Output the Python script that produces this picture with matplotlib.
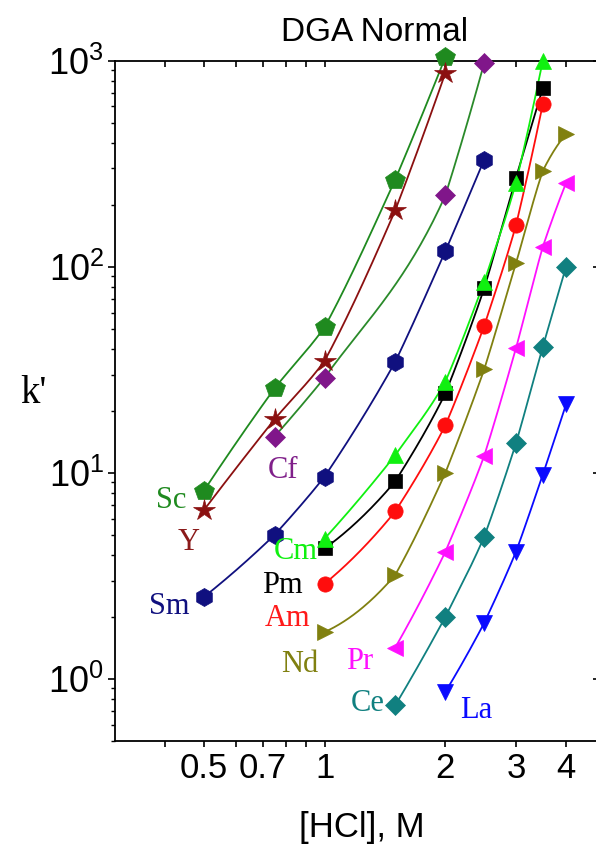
import numpy as np
import matplotlib
matplotlib.use("Agg")
import matplotlib.pyplot as plt
from matplotlib.ticker import FixedLocator, FixedFormatter, NullFormatter, LogLocator

plt.rcParams['mathtext.fontset'] = 'custom'
plt.rcParams['mathtext.rm'] = 'Liberation Sans'
plt.rcParams['mathtext.it'] = 'Liberation Sans:italic'
plt.rcParams['mathtext.bf'] = 'Liberation Sans:bold'

SANS = 'Liberation Sans'
SERIF = 'Liberation Serif'

# Retention factor k' versus HCl concentration (M) on DGA Normal resin
hcl_Sc = [0.5, 0.75, 1, 1.5, 2]
k_Sc = [8.2, 25.7, 51, 265, 1040]
hcl_Y = [0.5, 0.75, 1, 1.5, 2]
k_Y = [6.6, 18.2, 35, 188, 872]
hcl_Cf = [0.75, 1, 2, 2.5]
k_Cf = [15, 29, 222, 975]
hcl_Sm = [0.5, 0.75, 1, 1.5, 2, 2.5]
k_Sm = [2.5, 5.0, 9.6, 34.6, 119, 331]
hcl_Cm = [1, 1.5, 2, 2.5, 3, 3.5]
k_Cm = [4.8, 12.2, 27.7, 84.6, 255, 1000]
hcl_Pm = [1, 1.5, 2, 2.5, 3, 3.5]
k_Pm = [4.3, 9.1, 24.3, 78.6, 270, 735]
hcl_Am = [1, 1.5, 2, 2.5, 3, 3.5]
k_Am = [2.9, 6.5, 17, 51.7, 159, 615]
hcl_Nd = [1, 1.5, 2, 2.5, 3, 3.5, 4]
k_Nd = [1.69, 3.2, 10, 31.8, 104, 292, 440]
hcl_Pr = [1.5, 2, 2.5, 3, 3.5, 4]
k_Pr = [1.42, 4.14, 12.1, 40.2, 125, 255]
hcl_Ce = [1.5, 2, 2.5, 3, 3.5, 4]
k_Ce = [0.745, 2.0, 4.9, 13.9, 40.9, 100]
hcl_La = [2, 2.5, 3, 3.5, 4]
k_La = [0.865, 1.87, 4.14, 9.8, 21.5]

# series: name, x, y, marker, marker size, marker colour, line colour
series = [
    ("Sc", hcl_Sc, k_Sc, 'p', 15, '#1f8a1f', '#1f8a1f'),
    ("Y", hcl_Y, k_Y, '*', 16, '#8b1010', '#8b1010'),
    ("Cf", hcl_Cf, k_Cf, 'D', 10, '#80168a', '#2a8a2a'),
    ("Sm", hcl_Sm, k_Sm, 'h', 13, '#10107f', '#10107f'),
    ("Pm", hcl_Pm, k_Pm, 's', 9.5, '#000000', '#000000'),
    ("Cm", hcl_Cm, k_Cm, '^', 12, '#10f010', '#10f010'),
    ("Am", hcl_Am, k_Am, 'o', 11, '#ff0d0d', '#ff0d0d'),
    ("Nd", hcl_Nd, k_Nd, '>', 12, '#808010', '#808010'),
    ("Pr", hcl_Pr, k_Pr, '<', 12, '#ff10ff', '#ff10ff'),
    ("Ce", hcl_Ce, k_Ce, 'D', 10, '#108080', '#108080'),
    ("La", hcl_La, k_La, 'v', 12, '#0a0aff', '#0a0aff'),
]

# element label anchors (data coordinates) and colours
label_pos = {
    "Sc": (0.414, 7.37, '#1f8a1f'),
    "Y": (0.457, 4.61, '#8b1a1a'),
    "Cf": (0.786, 10.3, '#80208a'),
    "Cm": (0.845, 4.14, '#10f010'),
    "Pm": (0.786, 2.83, '#000000'),
    "Am": (0.809, 1.97, '#ff1a1a'),
    "Sm": (0.410, 2.24, '#10107f'),
    "Nd": (0.865, 1.18, '#808010'),
    "Pr": (1.22, 1.22, '#ff10ff'),
    "Ce": (1.28, 0.762, '#108080'),
    "La": (2.39, 0.705, '#0a0aff'),
}


def smooth_curve(x, y, n=60, blend=0.5):
    """Gently curved Hermite segments through the points in log-log space.

    Each segment's end tangents are pulled towards its own chord, so the
    curve bends softly and stays close to the straight connection.
    """
    lx = np.log10(np.asarray(x, float))
    ly = np.log10(np.asarray(y, float))
    h = np.diff(lx)
    d = np.diff(ly) / h
    m = len(lx)
    s = np.zeros(m)
    for i in range(1, m - 1):
        s[i] = (d[i - 1] * h[i] + d[i] * h[i - 1]) / (h[i - 1] + h[i])
    if m > 2:
        s[0] = ((2 * h[0] + h[1]) * d[0] - h[0] * d[1]) / (h[0] + h[1])
        s[-1] = ((2 * h[-1] + h[-2]) * d[-1] - h[-1] * d[-2]) / (h[-1] + h[-2])
    else:
        s[:] = d[0]
    s = np.maximum(s, 0.0)
    xs, ys = [], []
    for i in range(m - 1):
        a = blend * s[i] + (1 - blend) * d[i]
        b = blend * s[i + 1] + (1 - blend) * d[i]
        t = np.linspace(0, 1, n)
        h00 = 2 * t ** 3 - 3 * t ** 2 + 1
        h10 = t ** 3 - 2 * t ** 2 + t
        h01 = -2 * t ** 3 + 3 * t ** 2
        h11 = t ** 3 - t ** 2
        yy = h00 * ly[i] + h10 * h[i] * a + h01 * ly[i + 1] + h11 * h[i] * b
        xs.append(lx[i] + t * h[i])
        ys.append(yy)
    return 10 ** np.concatenate(xs), 10 ** np.concatenate(ys)


fig = plt.figure(figsize=(5.96, 8.52), dpi=100)
ax = fig.add_axes([0.19295, 0.13028, 0.8131, 0.79849])
ax.set_xscale('log')
ax.set_yscale('log')
ax.set_xlim(0.3, 4.85)
ax.set_ylim(0.5, 1000)

for name, x, y, mk, ms, mc, lc in series:
    cx, cy = smooth_curve(x, y)
    ax.plot(cx, cy, '-', color=lc, lw=1.3, zorder=2, clip_on=False)
    ax.plot(x, y, linestyle='none', marker=mk, ms=ms, color=mc,
            markeredgecolor=mc, markeredgewidth=0.5, zorder=3, clip_on=False)

for name, (tx, ty, col) in label_pos.items():
    ax.text(tx, ty, name, color=col, fontsize=22, family=SERIF,
            ha='center', va='center', zorder=4)

# axes styling
for side in ['left', 'bottom', 'top', 'right']:
    ax.spines[side].set_linewidth(1.3)

xmajor = [0.5, 0.7, 1, 2, 3, 4]
ax.xaxis.set_major_locator(FixedLocator(xmajor))
ax.xaxis.set_major_formatter(FixedFormatter(['0.5', '0.7', '1', '2', '3', '4']))
ax.xaxis.set_minor_locator(FixedLocator([0.4, 0.6, 0.8, 0.9]))
ax.xaxis.set_minor_formatter(NullFormatter())

ax.yaxis.set_major_locator(FixedLocator([1, 10, 100, 1000]))
ax.yaxis.set_major_formatter(FixedFormatter(['$10^0$', '$10^1$', '$10^2$', '$10^3$']))
ax.yaxis.set_minor_locator(LogLocator(base=10, subs=np.arange(2, 10) * 1.0, numticks=20))
ax.yaxis.set_minor_formatter(NullFormatter())

ax.tick_params(axis='x', which='both', direction='out', length=4, width=1.2,
               labelsize=25, pad=4, top=True)
ax.tick_params(axis='y', which='major', direction='out', length=5, width=1.2,
               labelsize=26, pad=3, right=True)
ax.tick_params(axis='y', which='minor', direction='out', length=3, width=1.0, right=True)
for lab in ax.get_xticklabels() + ax.get_yticklabels():
    lab.set_family(SANS)

# ticks on the top and right edges point into the plot
for t in ax.xaxis.get_major_ticks() + ax.xaxis.get_minor_ticks():
    t.tick2line.set_marker(matplotlib.lines.TICKDOWN)
for t in ax.yaxis.get_major_ticks() + ax.yaxis.get_minor_ticks():
    t.tick2line.set_marker(matplotlib.lines.TICKLEFT)

fig.text(0.629, 0.9613, 'DGA Normal', family=SANS, fontsize=24,
         ha='center', va='center')
fig.text(0.6074, 0.0282, '[HCl], M', family=SANS, fontsize=25,
         ha='center', va='center')
fig.text(0.0554, 0.5387, "k'", family=SERIF, fontsize=28,
         ha='center', va='center')

fig.savefig('out.png', dpi=100)
